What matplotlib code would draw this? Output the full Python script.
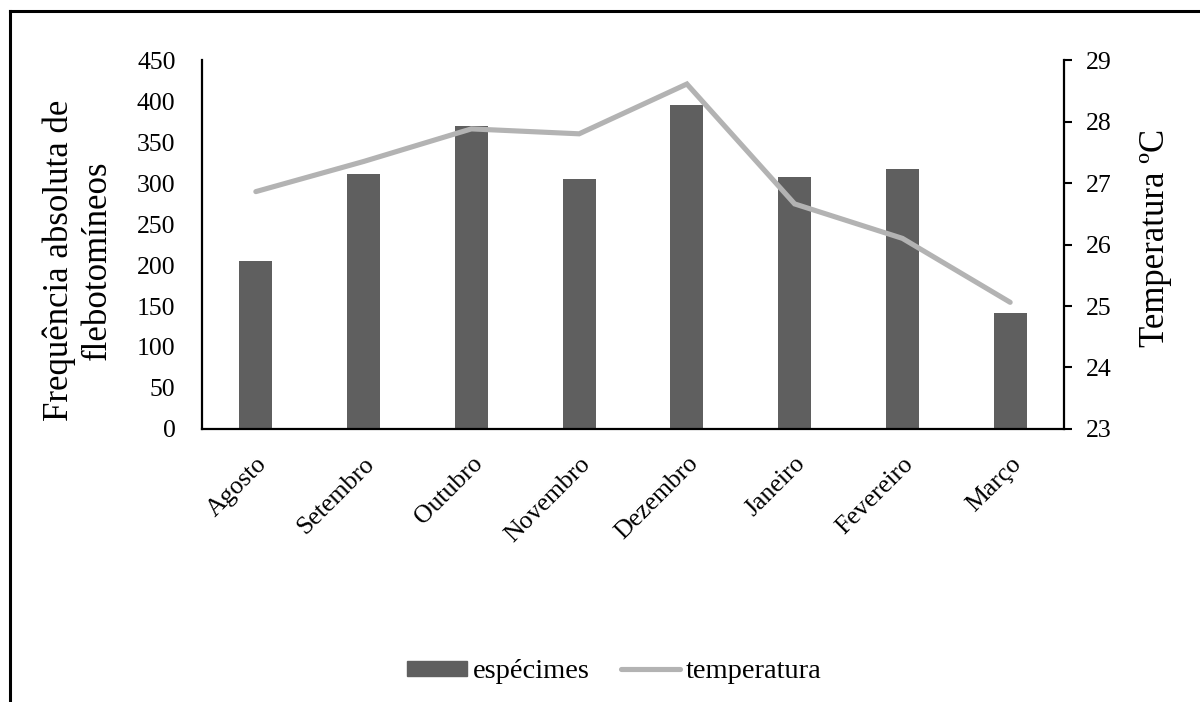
import matplotlib
matplotlib.use("Agg")
import matplotlib.pyplot as plt
from matplotlib.patches import Rectangle
from matplotlib.lines import Line2D
import numpy as np

months = ["Agosto", "Setembro", "Outubro", "Novembro", "Dezembro",
          "Janeiro", "Fevereiro", "Março"]
especimes = [205, 311, 369, 305, 395, 307, 317, 142]
temperatura = [26.86, 27.35, 27.88, 27.80, 28.61, 26.66, 26.10, 25.06]
left_ticks = [0, 50, 100, 150, 200, 250, 300, 350, 400, 450]
right_ticks = [23, 24, 25, 26, 27, 28, 29]

plt.rcParams["font.family"] = ["Liberation Serif", "DejaVu Serif"]

bar_color = "#5f5f5f"
line_color = "#b3b3b3"
tick_fs = 18.5
label_fs = 25

fig = plt.figure(figsize=(12, 7.02), dpi=100)
ax = fig.add_axes([0.1683, 0.3889, 0.7184, 0.5256])

x = np.arange(len(months))
ax.bar(x, especimes, width=0.306, color=bar_color, zorder=2)
ax.set_xlim(-0.5, len(months) - 0.5)
ax.set_ylim(0, 450)
ax.set_yticks(left_ticks)
ax.tick_params(axis="y", length=0, labelsize=tick_fs, pad=19)
ax.set_xticks(x)
ax.set_xticklabels(months, rotation=45, ha="right", va="top",
                   rotation_mode="anchor", fontsize=tick_fs)
ax.tick_params(axis="x", length=0, pad=17)
for s in ["top", "right"]:
    ax.spines[s].set_visible(False)
for s in ["left", "bottom"]:
    ax.spines[s].set_linewidth(1.6)
ax.set_ylabel("Frequência absoluta de\nflebotomíneos", fontsize=label_fs,
              linespacing=1.2, va="center", ha="center")
ax.yaxis.set_label_coords(-0.144, 0.458)

ax2 = ax.twinx()
ax2.plot(x, temperatura, color=line_color, linewidth=3.7,
         solid_capstyle="round", solid_joinstyle="miter", zorder=3)
ax2.set_ylim(23, 29)
ax2.set_yticks(right_ticks)
ax2.tick_params(axis="y", length=6, width=1.5, labelsize=tick_fs, pad=10)
for s in ["top", "left", "bottom"]:
    ax2.spines[s].set_visible(False)
ax2.spines["right"].set_linewidth(1.6)
ax2.set_ylabel("Temperatura ºC", fontsize=label_fs, rotation=90,
               va="center", ha="center")
ax2.yaxis.set_label_coords(1.1056, 0.518)

handles = [Rectangle((0, 0), 1, 1, color=bar_color),
           Line2D([0], [0], color=line_color, linewidth=3.7,
                  solid_capstyle="round")]
fig.legend(handles, ["espécimes", "temperatura"], loc="center",
           bbox_to_anchor=(0.512, 0.043), ncol=2, frameon=False,
           fontsize=20.5, handlelength=2.1, handleheight=0.45,
           handletextpad=0.2, columnspacing=1.1)

# chart frame: top and left edges
fig.add_artist(Line2D([0.0083, 1.0], [0.985, 0.985], transform=fig.transFigure,
                      color="black", linewidth=2.2))
fig.add_artist(Line2D([0.0083, 0.0083], [0.0, 0.985], transform=fig.transFigure,
                      color="black", linewidth=2.2))

fig.savefig("out.png", dpi=100)
